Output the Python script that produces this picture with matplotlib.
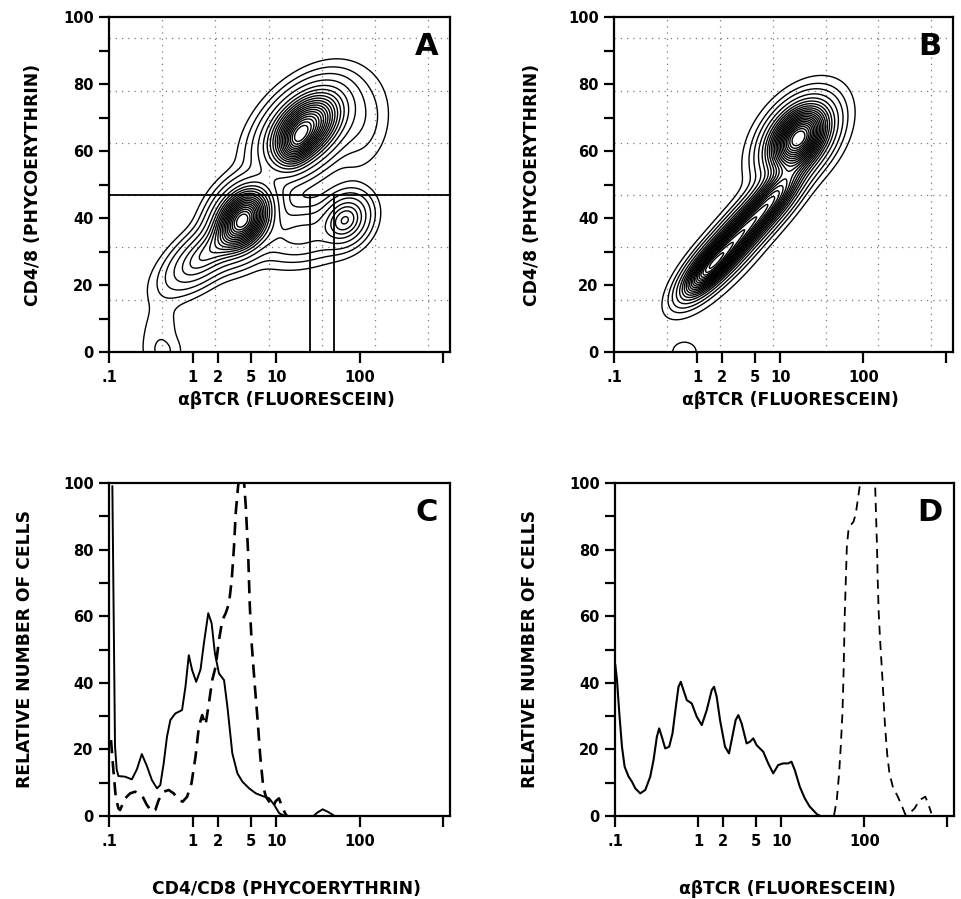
import numpy as np
import matplotlib
matplotlib.use("Agg")
import matplotlib.pyplot as plt
from matplotlib.ticker import FixedLocator, NullFormatter

plt.rcParams['font.family'] = ['DejaVu Sans']
plt.rcParams['font.weight'] = 'bold'

# ---------------- data ----------------
x_ticks = [0.1, 1, 2, 5, 10, 100, 1000]
x_tick_labels = ['.1', '1', '2', '5', '10', '100', '']
y_ticks = [0, 20, 40, 60, 80, 100]
y_minor_ticks = [10, 30, 50, 70, 90]

# Panel A: population blobs (log10 fluorescein, CD4/8 channel)
A_blob_logx = [1.35, 1.24, 0.60, 0.15, 1.83, 1.30, -0.40, -0.32, 2.02]
A_blob_y = [67, 62, 39.5, 29, 39.5, 35, 5, 0, 68]
A_blob_sx = [0.26, 0.12, 0.19, 0.25, 0.15, 0.30, 0.14, 0.12, 0.18]
A_blob_sy = [6.5, 4, 5.5, 5.5, 4, 4.5, 7, 2.8, 7]
A_blob_rho = [0.45, 0.3, 0.3, 0.65, 0.2, 0.2, 0.2, 0.0, 0.2]
A_blob_w = [0.9, 0.25, 1.0, 0.25, 0.30, 0.10, 0.014, 0.014, 0.03]
A_gate_y = 46.8
A_gate_x = [25.5, 49.5]

# Panel B
B_blob_logx = [1.22, 1.22, 0.95, 0.62, 0.30, 0.08, 0.70, -0.15]
B_blob_y = [64, 63, 47, 38, 29, 23, 40, 0]
B_blob_sx = [0.22, 0.21, 0.20, 0.22, 0.22, 0.17, 0.40, 0.11]
B_blob_sy = [6, 6, 5.5, 5.5, 5.5, 4.5, 14, 2.2]
B_blob_rho = [0.4, 0.4, 0.7, 0.75, 0.75, 0.7, 0.87, 0.0]
B_blob_w = [1.0, 0.15, 0.5, 0.55, 0.65, 0.5, 0.035, 0.02]

# Panel C histograms
C_solid_x = [0.1097, 0.118, 0.1236, 0.1295, 0.156, 0.1876, 0.2155, 0.247, 0.284, 0.326,
             0.375, 0.411, 0.451, 0.494, 0.542, 0.622, 0.748, 0.822, 0.901, 0.988,
             1.104, 1.245, 1.365, 1.54, 1.69, 1.85, 2.07, 2.38, 2.61, 2.99,
             3.44, 3.95, 4.75, 5.71, 6.87, 8.26, 9.50, 10.9, 11.97, 13,
             28, 31, 36, 42, 50]
C_solid_y = [99, 21, 14, 12, 11.8, 11, 14, 18.6, 15, 10.8,
             8.3, 9.3, 15.8, 23.8, 28.8, 30.8, 31.8, 38.8, 48.3, 43.8,
             40.3, 44, 51.8, 60.9, 57.9, 48.8, 42.8, 40.8, 32.8, 18.8,
             12.8, 10.3, 8.3, 6.8, 6.0, 5.3, 3.3, 0.8, 0.3, 0,
             0, 1, 2, 1.2, 0]
C_dash_x = [0.1057, 0.1128, 0.1203, 0.1295, 0.1356, 0.156, 0.179, 0.2056, 0.247, 0.284,
            0.326, 0.358, 0.393, 0.451, 0.518, 0.594, 0.682, 0.762, 0.860, 0.970,
            1.084, 1.189, 1.303, 1.429, 1.567, 1.718, 1.886, 2.07, 2.27, 2.49,
            2.73, 2.94, 3.13, 3.28, 3.50, 3.80, 4.14, 4.33, 4.62, 4.84,
            5.12, 5.56, 5.99, 6.45, 7.00, 7.54, 8.4, 9.2, 9.9, 10.8,
            11.7, 12.8, 13.5]
C_dash_y = [22.8, 13.8, 5.8, 2.3, 1.8, 5.3, 6.8, 7.3, 6.3, 3.3,
            1.3, 1.8, 4.8, 7.3, 7.8, 6.8, 4.8, 4.3, 5.8, 9.8,
            17.8, 26.8, 30.3, 27.3, 33.8, 40.8, 44.8, 52.8, 58.8, 60.9,
            63.9, 70.9, 80.9, 90.9, 98.9, 106, 100, 93, 79, 63,
            51, 39, 29, 18, 8.8, 5.8, 4.0, 2.8, 4.5, 5.3,
            3.0, 0.8, 0]

# Panel D histograms
D_solid_x = [0.1009, 0.1057, 0.1127, 0.1213, 0.1306, 0.1459, 0.160, 0.1754, 0.2014, 0.2312,
             0.2655, 0.291, 0.319, 0.340, 0.366, 0.402, 0.449, 0.492, 0.540, 0.581,
             0.619, 0.667, 0.731, 0.839, 0.964, 1.107, 1.271, 1.459, 1.556, 1.675,
             1.837, 2.109, 2.355, 2.582, 2.831, 3.048, 3.342, 3.837, 4.207, 4.613,
             5.058, 6.081, 6.982, 8.017, 9.204, 10.57, 12.13, 13.30, 14.59, 16.75,
             19.23, 22.08, 23.12, 27, 30]
D_solid_y = [45.3, 40.8, 30.8, 20.8, 14.8, 11.8, 10.3, 8.3, 6.8, 7.8,
             11.8, 16.8, 23.8, 26.3, 23.8, 20.3, 20.8, 24.8, 32.8, 38.8,
             40.3, 37.8, 34.8, 33.8, 29.8, 27.3, 31.8, 37.8, 38.8, 35.8,
             28.8, 20.8, 18.8, 23.8, 28.8, 30.3, 27.8, 21.8, 22.3, 23.3,
             21.3, 19.3, 15.8, 12.8, 15.3, 15.8, 15.8, 16.3, 13.8, 8.8,
             5.3, 2.8, 2.3, 0.5, 0]
D_dash_x = [43.3, 46.7, 49.8, 52.1, 54.6, 56.1, 57.2, 58.3, 60.0, 61.7,
            64.6, 68.9, 74.3, 79.2, 84.6, 88.6, 110, 134.7, 138.4, 142.4,
            145.1, 149.3, 155.0, 162.3, 170.0, 178.0, 188.4, 201.0, 220.4, 253.4,
            291.5, 311.1, 350.9, 403.6, 464.3, 543.5, 585.9, 642.7]
D_dash_y = [0.3, 4.8, 12.8, 20.8, 30.8, 40.9, 50.9, 60.9, 70.9, 80.9,
            85.9, 87.4, 88.4, 90.9, 95.9, 99.4, 125, 100.5, 90.9, 80.9,
            70.9, 60.9, 52.9, 44.8, 35.8, 26.8, 18.8, 12.8, 8.8, 5.8,
            2.3, 0.5, 0.8, 2.3, 4.8, 5.8, 3.8, 0.8]

# ---------------- figure ----------------
fig = plt.figure(figsize=(9.61, 8.99), dpi=100)
W, H = 961, 899

def add_ax(l, t, r, b):
    return fig.add_axes([l / W, 1 - b / H, (r - l) / W, (b - t) / H])

axA = add_ax(109, 17, 450, 352)
axB = add_ax(614, 17, 953, 352)
axC = add_ax(109, 483, 450, 816)
axD = add_ax(615, 483, 954, 816)

XMAX = 10 ** 3.08

def style(ax):
    ax.set_xscale('log')
    ax.set_xlim(0.1, XMAX)
    ax.set_ylim(0, 100)
    ax.xaxis.set_major_locator(FixedLocator(x_ticks))
    ax.set_xticklabels(x_tick_labels)
    ax.xaxis.set_minor_locator(FixedLocator([]))
    ax.xaxis.set_minor_formatter(NullFormatter())
    ax.yaxis.set_major_locator(FixedLocator(y_ticks))
    ax.yaxis.set_minor_locator(FixedLocator(y_minor_ticks))
    ax.tick_params(axis='both', which='both', direction='out', width=1.6,
                   labelsize=10.5, colors='black')
    ax.tick_params(axis='x', which='major', length=8, pad=5)
    ax.tick_params(axis='y', which='major', length=7, pad=4)
    ax.tick_params(axis='y', which='minor', length=7)
    for lab in ax.get_xticklabels() + ax.get_yticklabels():
        lab.set_fontweight('bold')
    for s in ax.spines.values():
        s.set_linewidth(1.6)

def dotted_grid(ax):
    fr = [0.156 * k for k in range(1, 7)]
    for f in fr:
        ax.axhline(100 * f, color='#7a7a7a', lw=0.9, ls=(0, (1, 4)), zorder=0)
        ax.axvline(10 ** (-1 + 4.08 * f), color='#7a7a7a', lw=0.9, ls=(0, (1, 4)), zorder=0)

def density(U, Y, mx, my, sx, sy, rho, w):
    Z = np.zeros_like(U)
    for a, b, c, d, r, ww in zip(mx, my, sx, sy, rho, w):
        dx = (U - a) / c
        dy = (Y - b) / d
        q = (dx ** 2 - 2 * r * dx * dy + dy ** 2) / (1 - r ** 2)
        Z += ww * np.exp(-q / 2)
    return Z / Z.max()

u = np.linspace(-1, 3.08, 500)
yy = np.linspace(0, 100, 500)
U, Y = np.meshgrid(u, yy)

for ax in (axA, axB, axC, axD):
    style(ax)

# Panel A
dotted_grid(axA)
ZA = density(U, Y, A_blob_logx, A_blob_y, A_blob_sx, A_blob_sy, A_blob_rho, A_blob_w)
levA = np.concatenate([[0.006, 0.018, 0.04], np.linspace(0.08, 0.94, 17)])
axA.contour(10 ** U, Y, ZA, levels=levA, colors='black', linewidths=1.0)
axA.axhline(A_gate_y, color='black', lw=1.3)
for gx in A_gate_x:
    axA.plot([gx, gx], [0, A_gate_y], color='black', lw=1.3)

# Panel B
dotted_grid(axB)
ZB = density(U, Y, B_blob_logx, B_blob_y, B_blob_sx, B_blob_sy, B_blob_rho, B_blob_w)
levB = np.concatenate([[0.008, 0.025, 0.05], np.linspace(0.09, 0.94, 19)])
axB.contour(10 ** U, Y, ZB, levels=levB, colors='black', linewidths=1.0)

# Panel C
axC.plot(C_solid_x, C_solid_y, color='black', lw=1.4)
axC.plot(C_dash_x, C_dash_y, color='black', lw=1.9, ls=(0, (5, 3)))

# Panel D
axD.plot(D_solid_x, D_solid_y, color='black', lw=1.5)
axD.plot(D_dash_x, D_dash_y, color='black', lw=1.3, ls=(0, (5, 3.5)))

# Panel letters
for ax, letter in ((axA, 'A'), (axB, 'B'), (axC, 'C'), (axD, 'D')):
    ax.text(0.965, 0.955, letter, transform=ax.transAxes, ha='right', va='top',
            fontsize=22, fontweight='bold')

# axis labels
lab_kw = dict(fontsize=12.3, fontweight='bold', ha='center', va='center')
fig.text(286 / W, 1 - 400 / H, 'αβTCR (FLUORESCEIN)', **lab_kw)
fig.text(790 / W, 1 - 400 / H, 'αβTCR (FLUORESCEIN)', **lab_kw)
fig.text(287 / W, 1 - 889 / H, 'CD4/CD8 (PHYCOERYTHRIN)', **lab_kw)
fig.text(787 / W, 1 - 889 / H, 'αβTCR (FLUORESCEIN)', **lab_kw)
fig.text(33 / W, 1 - 185 / H, 'CD4/8 (PHYCOERYTHRIN)', rotation=90, **lab_kw)
fig.text(532 / W, 1 - 185 / H, 'CD4/8 (PHYCOERYTHRIN)', rotation=90, **lab_kw)
fig.text(25 / W, 1 - 649 / H, 'RELATIVE NUMBER OF CELLS', rotation=90, **lab_kw)
fig.text(530 / W, 1 - 649 / H, 'RELATIVE NUMBER OF CELLS', rotation=90, **lab_kw)

fig.savefig('out.png', dpi=100, facecolor='white')
